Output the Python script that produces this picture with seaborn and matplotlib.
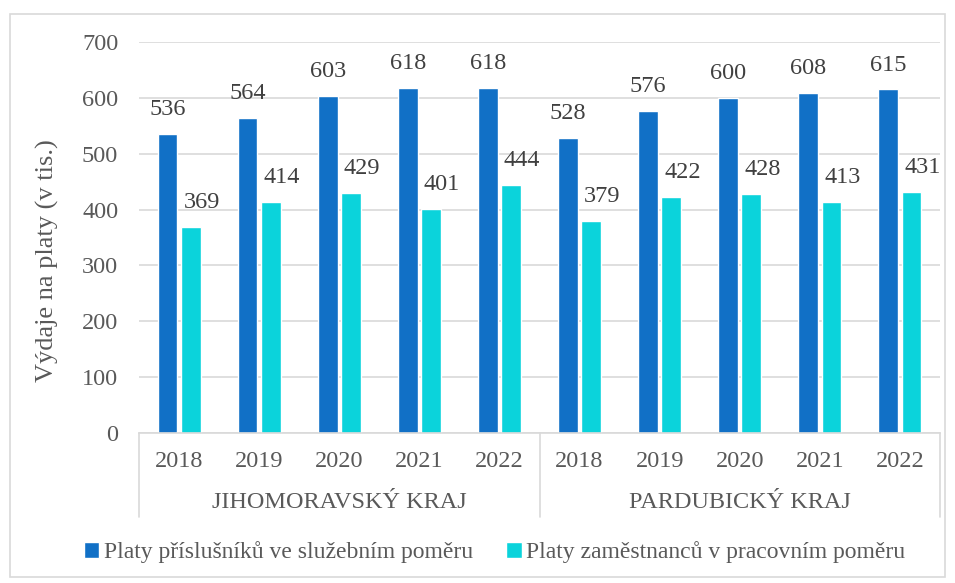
import pandas as pd
import matplotlib.pyplot as plt
import matplotlib.transforms as mtransforms
from matplotlib.patches import Rectangle, Patch
import seaborn as sns

# data
regions = ["JIHOMORAVSKÝ KRAJ", "PARDUBICKÝ KRAJ"]
years = ["2018", "2019", "2020", "2021", "2022"]
series_names = ["Platy příslušníků ve služebním poměru",
                "Platy zaměstnanců v pracovním poměru"]
sluzebni = [536, 564, 603, 618, 618, 528, 576, 600, 608, 615]
pracovni = [369, 414, 429, 401, 444, 379, 422, 428, 413, 431]

DARK = "#1170C6"
CYAN = "#0BD3DB"
TEXT = "#595959"
GRID = "#D9D9D9"

rows = []
cats = []
for i, reg in enumerate(regions):
    for j, yr in enumerate(years):
        k = i * len(years) + j
        cat = f"{reg}|{yr}"
        cats.append(cat)
        rows.append({"cat": cat, "series": series_names[0], "value": sluzebni[k]})
        rows.append({"cat": cat, "series": series_names[1], "value": pracovni[k]})
df = pd.DataFrame(rows)

sns.set_style("white")
plt.rcParams["font.family"] = ["Liberation Serif", "DejaVu Serif"]
plt.rcParams["text.color"] = TEXT

fig = plt.figure(figsize=(9.55, 5.83), dpi=100)
ax = fig.add_axes([139 / 955, 1 - 433 / 583, (940 - 139) / 955, (433 - 42) / 583])

sns.barplot(data=df, x="cat", y="value", hue="series", order=cats,
            hue_order=series_names, palette=[DARK, CYAN], width=0.58, gap=0.15,
            saturation=1, ax=ax, legend=False)

ax.set_ylim(0, 700)
ax.set_yticks(range(0, 701, 100))
ax.yaxis.grid(True, color=GRID, linewidth=1.2)
ax.set_axisbelow(True)
for s in ["top", "right", "left"]:
    ax.spines[s].set_visible(False)
ax.spines["bottom"].set_color(GRID)
ax.spines["bottom"].set_linewidth(1.2)
ax.tick_params(axis="y", length=0, pad=15, labelsize=17.5, labelcolor=TEXT)
ax.tick_params(axis="x", length=0, pad=13, labelsize=17.5, labelcolor=TEXT)
ax.set_xticks(range(len(cats)))
ax.set_xticklabels(years * len(regions))
ax.set_xlabel("")
ax.set_ylabel("Výdaje na platy (v tis.)", fontsize=19, color=TEXT)
ax.yaxis.set_label_coords(-0.1, 0.44)
ax.set_xlim(-0.5, len(cats) - 0.5)

# value labels
for container, dx in zip(ax.containers, [0, 8]):
    for bar in container:
        h = bar.get_height()
        ax.annotate(f"{h:.0f}", (bar.get_x() + bar.get_width() / 2, h),
                    xytext=(dx, 10), textcoords="offset points",
                    ha="center", va="bottom", fontsize=17.5, color="#404040")

# second level of category axis
trans = mtransforms.blended_transform_factory(ax.transData, ax.transAxes)
sep_bottom = -(517 - 433) / (433 - 42)
for b in [-0.5, len(years) - 0.5, len(cats) - 0.5]:
    ax.plot([b, b], [0, sep_bottom], transform=trans, color=GRID,
            linewidth=1.2, clip_on=False)
for i, reg in enumerate(regions):
    mid = i * len(years) + (len(years) - 1) / 2
    ax.text(mid, -(503 - 433) / (433 - 42), reg, transform=trans,
            ha="center", va="center", fontsize=17.5, color=TEXT)

handles = [Patch(facecolor=DARK, label=series_names[0]),
           Patch(facecolor=CYAN, label=series_names[1])]
fig.legend(handles=handles, loc="center", bbox_to_anchor=(0.518, 1 - 552 / 583),
           ncol=2, frameon=False, fontsize=17, handlelength=0.65,
           handleheight=0.65, handletextpad=0.2, columnspacing=1.4,
           labelcolor=TEXT)

fig.patches.append(Rectangle((10 / 955, 1 - 577 / 583), 935 / 955, 563 / 583,
                             transform=fig.transFigure, fill=False,
                             edgecolor=GRID, linewidth=1.2))

fig.savefig("out.png", dpi=100)
